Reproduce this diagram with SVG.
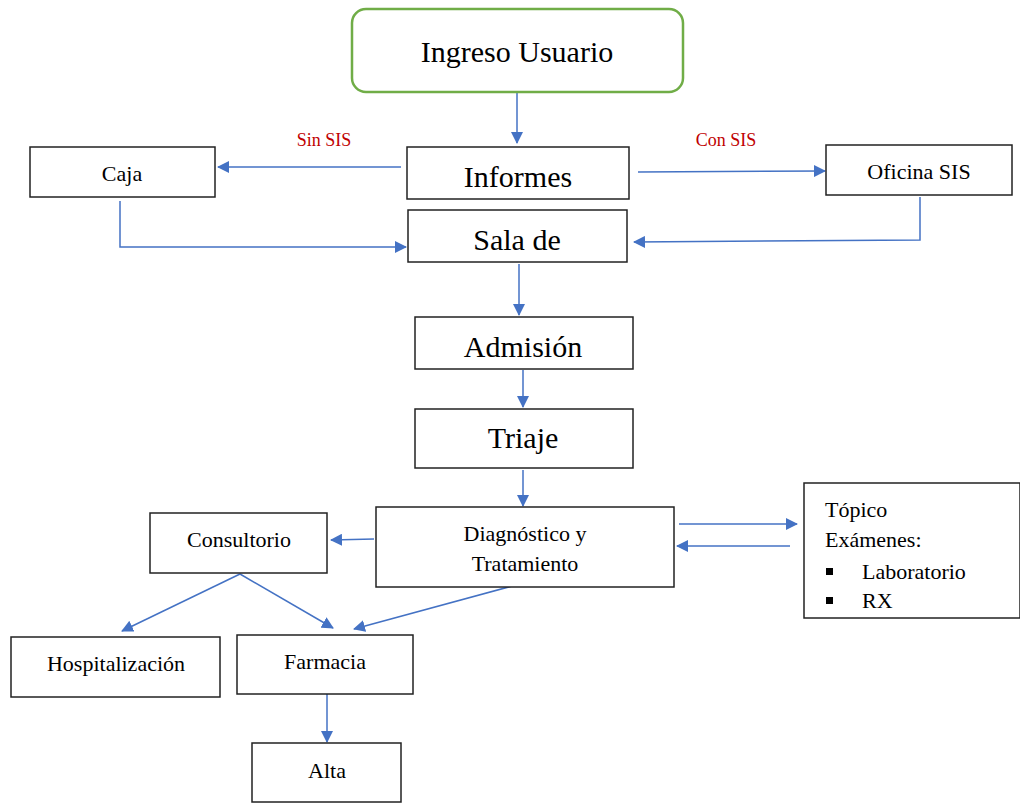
<svg xmlns="http://www.w3.org/2000/svg" width="1020" height="803" viewBox="0 0 1020 803">
<style>
.box{fill:#fff;stroke:#222;stroke-width:1.5}
.t{font-family:'Liberation Serif','Times New Roman',Times,'DejaVu Serif',serif;fill:#000;text-anchor:middle}
.lbl{font-family:'Liberation Serif','Times New Roman',Times,'DejaVu Serif',serif;fill:#C00000;font-size:18px;text-anchor:middle}
.c{fill:none;stroke:#4472C4;stroke-width:1.5}
.a{marker-end:url(#ah)}
</style>
<defs>
<marker id="ah" viewBox="0 0 12 12" refX="11" refY="6" markerWidth="12" markerHeight="12" markerUnits="userSpaceOnUse" orient="auto">
<path d="M0,0 L12,6 L0,12 z" fill="#4472C4"/>
</marker>
</defs>
<rect width="1020" height="803" fill="#fff"/>
<g id="connectors">
<line class="c a" x1="517" y1="92" x2="517" y2="143"/>
<line class="c a" x1="401" y1="167" x2="218" y2="167"/>
<line class="c a" x1="638" y1="172" x2="825" y2="171"/>
<polyline class="c a" points="920,197 920,240 634,242"/>
<polyline class="c a" points="120,201 120,247 406,247"/>
<line class="c a" x1="519" y1="264" x2="519" y2="315"/>
<line class="c a" x1="523" y1="370" x2="523" y2="407"/>
<line class="c a" x1="523" y1="470" x2="523" y2="506"/>
<line class="c a" x1="374" y1="539" x2="331" y2="540"/>
<line class="c a" x1="679" y1="524" x2="797" y2="524"/>
<line class="c a" x1="790" y1="546" x2="677" y2="546"/>
<line class="c a" x1="240" y1="574" x2="122" y2="631"/>
<line class="c a" x1="240" y1="574" x2="333" y2="628"/>
<line class="c a" x1="516" y1="585" x2="354" y2="629"/>
<line class="c a" x1="327" y1="694" x2="327" y2="742"/>
</g>
<g id="ingreso">
<rect x="352" y="9" width="331" height="83" rx="14" fill="#fff" stroke="#70AD47" stroke-width="2.5"/>
<text class="t" x="517" y="62" font-size="30">Ingreso Usuario</text>
</g>
<g id="informes">
<rect class="box" x="407" y="147" width="222" height="52"/>
<text class="t" x="518" y="187" font-size="30">Informes</text>
</g>
<g id="caja">
<rect class="box" x="30" y="147" width="185" height="50"/>
<text class="t" x="122" y="181" font-size="22">Caja</text>
</g>
<text class="lbl" x="324" y="146">Sin SIS</text>
<text class="lbl" x="726" y="146">Con SIS</text>
<g id="oficina">
<rect class="box" x="826" y="145" width="186" height="50"/>
<text class="t" x="919" y="179" font-size="22">Oficina SIS</text>
</g>
<g id="sala">
<rect class="box" x="408" y="210" width="219" height="52"/>
<text class="t" x="517" y="250" font-size="30">Sala de</text>
</g>
<g id="admision">
<rect class="box" x="415" y="317" width="218" height="52"/>
<text class="t" x="523" y="357" font-size="30">Admisión</text>
</g>
<g id="triaje">
<rect class="box" x="415" y="409" width="218" height="59"/>
<text class="t" x="523" y="448" font-size="30">Triaje</text>
</g>
<g id="diagnostico">
<rect class="box" x="376" y="507" width="298" height="80"/>
<text class="t" x="525" y="541" font-size="22">Diagnóstico y</text>
<text class="t" x="525" y="571" font-size="22">Tratamiento</text>
</g>
<g id="consultorio">
<rect class="box" x="150" y="513" width="177" height="60"/>
<text class="t" x="239" y="547" font-size="22">Consultorio</text>
</g>
<g id="topico">
<rect class="box" x="804" y="483" width="216" height="135"/>
<text class="t" font-size="22" style="text-anchor:start">
<tspan x="825" y="517">Tópico</tspan>
<tspan x="825" y="547">Exámenes:</tspan>
<tspan x="862" y="579">Laboratorio</tspan>
<tspan x="862" y="608">RX</tspan>
</text>
<rect x="826" y="568" width="7" height="7" fill="#000"/>
<rect x="826" y="597" width="7" height="7" fill="#000"/>
</g>
<g id="hospitalizacion">
<rect class="box" x="11" y="637" width="209" height="60"/>
<text class="t" x="116" y="671" font-size="22">Hospitalización</text>
</g>
<g id="farmacia">
<rect class="box" x="237" y="635" width="176" height="59"/>
<text class="t" x="325" y="669" font-size="22">Farmacia</text>
</g>
<g id="alta">
<rect class="box" x="252" y="743" width="149" height="59"/>
<text class="t" x="327" y="778" font-size="22">Alta</text>
</g>
</svg>
